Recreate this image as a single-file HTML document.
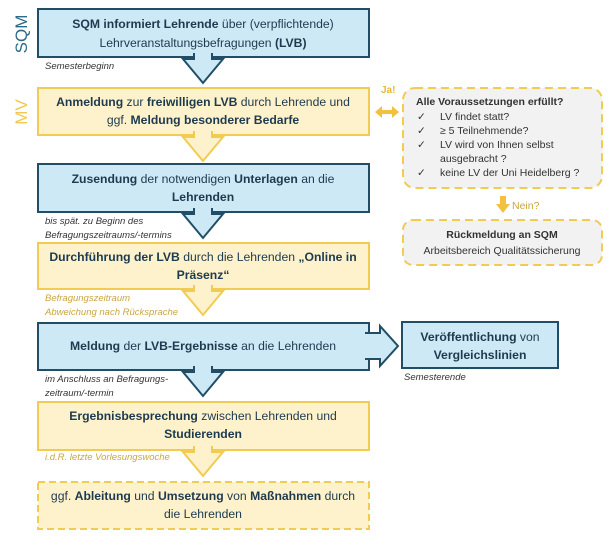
<!DOCTYPE html>
<html><head><meta charset="utf-8"><style>
body{margin:0;background:#fff}
svg{display:block}
text{font-family:"Liberation Sans",sans-serif}
.t{font-size:12.2px;fill:#1d3a4f;text-anchor:middle}
.b{font-weight:bold}
.i{font-size:9.5px;font-style:italic;fill:#333}
.iy{font-size:9.5px;font-style:italic;fill:#c9a640}
.s{font-size:10.5px;fill:#333}
</style></head><body>
<svg width="616" height="545" viewBox="0 0 616 545">
<defs>
<g id="ar"><polygon points="-9,-3 -9,2 -20,2 0,26 20,2 9,2 9,-3"/></g>
</defs>
<text transform="translate(27,34) rotate(-90)" text-anchor="middle" style="font-size:17px;fill:#2d6a88">SQM</text>
<text transform="translate(27,112) rotate(-90)" text-anchor="middle" style="font-size:17px;fill:#f0c850">MV</text>

<g stroke-width="2">
<rect x="38" y="9" width="331" height="48" fill="#cde9f6" stroke="#214e66"/>
<rect x="38" y="88" width="331" height="47" fill="#fdf2cc" stroke="#f1cb52"/>
<rect x="38" y="164" width="331" height="48" fill="#cde9f6" stroke="#214e66"/>
<rect x="38" y="243" width="331" height="46" fill="#fdf2cc" stroke="#f1cb52"/>
<rect x="38" y="323" width="331" height="47" fill="#cde9f6" stroke="#214e66"/>
<rect x="38" y="402" width="331" height="48" fill="#fdf2cc" stroke="#f1cb52"/>
<rect x="38" y="482" width="331" height="47" fill="#fdf2cc" stroke="#f1cb52" stroke-dasharray="7,4"/>
<rect x="402" y="322" width="156" height="46" fill="#cde9f6" stroke="#214e66"/>
<rect x="403" y="88" width="199" height="100" rx="12" fill="#f2f2f2" stroke="#f1cb52" stroke-dasharray="8,5"/>
<rect x="403" y="220" width="199" height="45" rx="10" fill="#f2f2f2" stroke="#f1cb52" stroke-dasharray="8,5"/>
</g>

<g fill="#cde9f6" stroke="#214e66" stroke-width="2">
<use href="#ar" transform="translate(203,57)"/>
<use href="#ar" transform="translate(203,212)"/>
<use href="#ar" transform="translate(203,370)"/>
<polygon points="366,333 380,333 380,326 398,346 380,366 380,359 366,359"/>
</g>
<g fill="#cde9f6">
<rect x="195" y="52" width="16" height="8"/>
<rect x="195" y="207" width="16" height="8"/>
<rect x="195" y="365" width="16" height="8"/>
<rect x="364" y="334" width="15" height="24"/>
</g>
<g fill="#fdf2cc" stroke="#f1cb52" stroke-width="2">
<use href="#ar" transform="translate(203,135)"/>
<use href="#ar" transform="translate(203,289)"/>
<use href="#ar" transform="translate(203,450)"/>
</g>
<g fill="#fdf2cc">
<rect x="195" y="130" width="16" height="8"/>
<rect x="195" y="284" width="16" height="8"/>
<rect x="195" y="445" width="16" height="8"/>
</g>

<text class="t" x="203" y="28"><tspan class="b">SQM informiert Lehrende</tspan> über (verpflichtende)</text>
<text class="t" x="203" y="47">Lehrveranstaltungsbefragungen <tspan class="b">(LVB)</tspan></text>
<text class="i" x="45" y="69">Semesterbeginn</text>

<text class="t" x="203" y="106"><tspan class="b">Anmeldung</tspan> zur <tspan class="b">freiwilligen LVB</tspan> durch Lehrende und</text>
<text class="t" x="203" y="124">ggf. <tspan class="b">Meldung besonderer Bedarfe</tspan></text>

<text class="t" x="203" y="183"><tspan class="b">Zusendung</tspan> der notwendigen <tspan class="b">Unterlagen</tspan> an die</text>
<text class="t" x="203" y="201" font-weight="bold">Lehrenden</text>
<text class="i" x="45" y="224">bis spät. zu Beginn des</text>
<text class="i" x="45" y="238">Befragungszeitraums/-termins</text>

<text class="t" x="203" y="261"><tspan class="b">Durchführung der LVB</tspan>  durch die Lehrenden <tspan class="b">„Online in</tspan></text>
<text class="t" x="203" y="279" font-weight="bold">Präsenz“</text>
<text class="iy" x="45" y="301">Befragungszeitraum</text>
<text class="iy" x="45" y="315">Abweichung nach Rücksprache</text>

<text class="t" x="203" y="350"><tspan class="b">Meldung</tspan> der <tspan class="b">LVB-Ergebnisse</tspan> an die Lehrenden</text>
<text class="i" x="45" y="382">im Anschluss an  Befragungs-</text>
<text class="i" x="45" y="396">zeitraum/-termin</text>

<text class="t" x="203" y="420"><tspan class="b">Ergebnisbesprechung</tspan> zwischen Lehrenden und</text>
<text class="t" x="203" y="438" font-weight="bold">Studierenden</text>
<text class="iy" x="45" y="460">i.d.R. letzte Vorlesungswoche</text>

<text class="t" x="203" y="500">ggf. <tspan class="b">Ableitung</tspan> und <tspan class="b">Umsetzung</tspan> von <tspan class="b">Maßnahmen</tspan> durch</text>
<text class="t" x="203" y="518">die Lehrenden</text>

<text class="t" x="480" y="341"><tspan class="b">Veröffentlichung</tspan> von</text>
<text class="t" x="480" y="359" font-weight="bold">Vergleichslinien</text>
<text class="i" x="404" y="380">Semesterende</text>

<text x="381" y="93" style="font-size:10px;font-weight:bold;fill:#e8b830">Ja!</text>
<polygon points="375,112 382,106 382,110 392,110 392,106 399,112 392,118 392,114 382,114 382,118" fill="#f3c040"/>

<text x="416" y="105" style="font-size:10.5px;font-weight:bold;fill:#333">Alle Voraussetzungen  erfüllt?</text>
<text class="s" x="417" y="120">✓</text><text class="s" x="440" y="120">LV findet statt?</text>
<text class="s" x="417" y="134">✓</text><text class="s" x="440" y="134">≥ 5 Teilnehmende?</text>
<text class="s" x="417" y="148">✓</text><text class="s" x="440" y="148">LV wird von Ihnen selbst</text>
<text class="s" x="440" y="162">ausgebracht ?</text>
<text class="s" x="417" y="176">✓</text><text class="s" x="440" y="176">keine LV der Uni Heidelberg ?</text>
<polygon points="500,196 506,196 506,204 510,204 503,213 496,204 500,204" fill="#f3c040"/>
<text x="512" y="209" style="font-size:10.5px;fill:#c9a640">Nein?</text>

<text x="502" y="238" text-anchor="middle" style="font-size:10.5px;font-weight:bold;fill:#333">Rückmeldung  an SQM</text>
<text x="502" y="254" text-anchor="middle" style="font-size:10.5px;fill:#333">Arbeitsbereich Qualitätssicherung</text>
</svg>
</body></html>
